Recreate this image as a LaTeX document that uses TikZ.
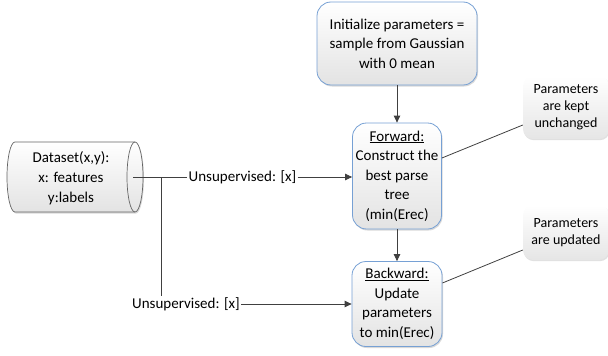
\documentclass[tikz,border=0pt]{standalone}
\usepackage{fontspec}
\setmainfont{Carlito}
\usetikzlibrary{arrows.meta,shadows,calc}
\definecolor{boxblue}{RGB}{118,160,212}
\definecolor{linegray}{RGB}{64,64,64}
\definecolor{cylgray}{RGB}{100,100,100}
\tikzset{
  mainbox/.style={draw=boxblue, line width=0.8pt, rounded corners=14pt,
    top color=white, bottom color=black!11, align=center, inner sep=0pt,
    font=\fontsize{15}{19.5}\selectfont,
    drop shadow={shadow xshift=1pt, shadow yshift=-1.5pt, opacity=0.25, fill=black!60}},
  callout/.style={rounded corners=10pt, top color=white, bottom color=black!10,
    align=center, inner sep=0pt, font=\fontsize{14}{17}\selectfont,
    drop shadow={shadow xshift=0.8pt, shadow yshift=-1.2pt, opacity=0.2, fill=black!60}},
  lbl/.style={inner sep=1pt, font=\fontsize{15}{18}\selectfont},
  conn/.style={draw=linegray, line width=0.8pt},
  arr/.style={conn, -{Triangle[length=7pt,width=6.5pt]}}
}
\begin{document}
\begin{tikzpicture}[x=1pt,y=-1pt]
\useasboundingbox (0,0) rectangle (608,356);
% cylinder
\path[drop shadow={shadow xshift=1pt, shadow yshift=-1.5pt, opacity=0.25, fill=black!60},
      top color=white, bottom color=black!11, draw=cylgray, line width=0.7pt]
  (15,142) -- (135,142) arc[start angle=90, end angle=-90, x radius=8pt, y radius=35pt]
  -- (15,212) arc[start angle=270, end angle=90, x radius=8pt, y radius=35pt] -- cycle;
\draw[cylgray, line width=0.7pt] (135,142) arc[start angle=90, end angle=270, x radius=8pt, y radius=35pt];
\node[align=center, inner sep=0pt, font=\fontsize{15}{20}\selectfont] (data) at (71,178)
  {Dataset(x,y):\\x: features\\y:labels};
\coordinate (dataout) at (133,177);
\coordinate (j) at (161,177);

\node[mainbox, minimum width=160pt, minimum height=83pt] (init) at (397,43.5)
  {Initialize parameters =\\sample from Gaussian\\with 0 mean};
\node[mainbox, minimum width=89pt, minimum height=106pt] (fwd) at (397,176)
  {\underline{Forward:}\\Construct the\\best parse\\tree\\(min(Erec)};
\node[mainbox, minimum width=90pt, minimum height=85pt] (bwd) at (397,304)
  {\underline{Backward:}\\Update\\parameters\\to min(Erec)};
\node[callout, minimum width=86pt, minimum height=63pt] (c1) at (566,107.5)
  {Parameters\\are kept\\unchanged};
\node[callout, minimum width=86pt, minimum height=55pt] (c2) at (566,232.5)
  {Parameters\\are updated};

\node[lbl] (lab1) at (242.5,177) {Unsupervised: [x]};
\node[lbl] (lab2) at (186,304) {Unsupervised: [x]};

\draw[conn] (dataout) -- (lab1.west);
\draw[arr] (lab1.east) -- (lab1.east -| fwd.west);
\draw[conn] (j) -- (j |- lab2.north);
\draw[arr] (lab2.east) -- (lab2.east -| bwd.west);
\draw[arr] (init.south) -- (fwd.north);
\draw[arr] (fwd.south) -- (bwd.north);
\draw[conn] ([yshift=18pt]fwd.east) -- ([yshift=-17.5pt]c1.west);
\draw[conn] ([yshift=21pt]bwd.east) -- ([yshift=-17.5pt]c2.west);
\end{tikzpicture}
\end{document}
